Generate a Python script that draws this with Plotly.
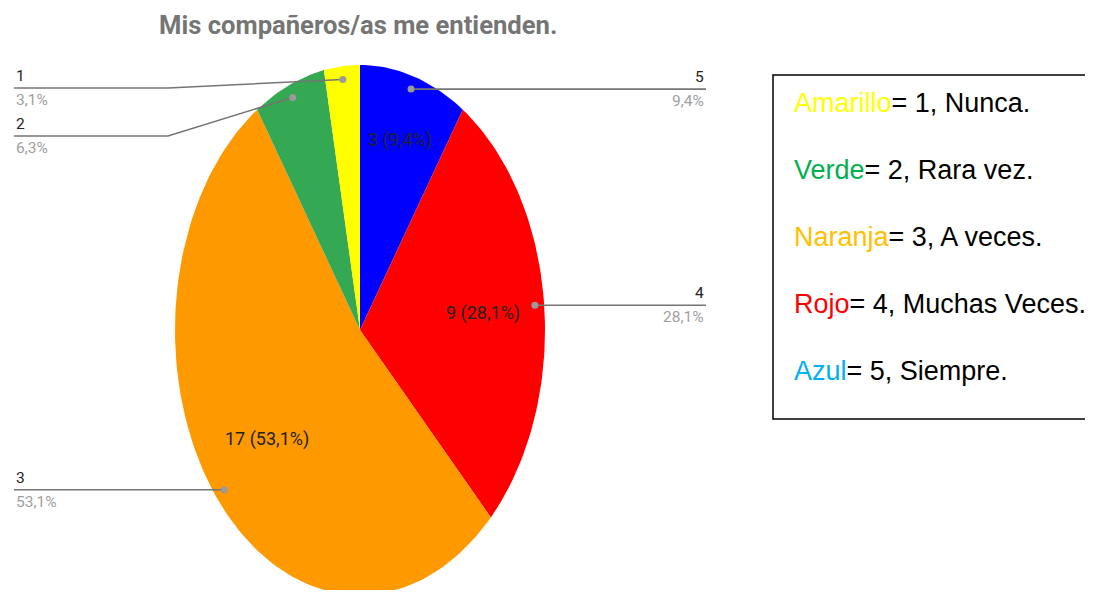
import math
import plotly.graph_objects as go

# ---------------- data ----------------
TITLE = "Mis compañeros/as me entienden."
CATEGORIES = ["5", "4", "3", "2", "1"]          # clockwise from 12 o'clock
COUNTS = [3, 9, 17, 2, 1]
SLICE_COLORS = ["#0000ff", "#ff0000", "#ff9900", "#34a853", "#ffff00"]
INSIDE_LABELLED = ["5", "4", "3"]

LEGEND_WORDS = ["Amarillo", "Verde", "Naranja", "Rojo", "Azul"]
LEGEND_WORD_COLORS = ["#ffff00", "#00b050", "#ffc000", "#ff0000", "#00b0f0"]
LEGEND_REST = ["= 1, Nunca.", "= 2, Rara vez.", "= 3, A veces.",
               "= 4, Muchas Veces.", "= 5, Siempre."]

# ---------------- style / layout ----------------
W, H = 1093, 598
OFF = 8                      # page body margin of the html file
CX, CY = 360, 330
RX, RY = 185, 265
CONDENSED = "Roboto, Liberation Sans, sans-serif"
ARIAL = "Liberation Sans, Arial, sans-serif"
INNER_R = {"5": 0.75, "4": 0.67, "3": 0.65}
DOT_R = 0.95
LEADER = {  # side, end x, elbow x, forced line y
    "5": ("right", 706, None, None),
    "4": ("right", 706, None, None),
    "3": ("left", 14, None, None),
    "2": ("left", 14, 168, 136),
    "1": ("left", 14, 168, 88),
}

total = sum(COUNTS)


def pct_text(c):
    return f"{c / total * 100 + 1e-9:.1f}".replace(".", ",") + "%"


def pt(frac, r):
    a = 2 * math.pi * frac
    return CX + RX * r * math.sin(a), CY - RY * r * math.cos(a)


fig = go.Figure()
annotations = []

cum = 0
for cat, cnt, col in zip(CATEGORIES, COUNTS, SLICE_COLORS):
    f0, f1 = cum / total, (cum + cnt) / total
    n = max(8, int(240 * (f1 - f0)))
    xs, ys = [CX], [CY]
    for i in range(n + 1):
        x, y = pt(f0 + (f1 - f0) * i / n, 1.0)
        xs.append(x)
        ys.append(y)
    xs.append(CX)
    ys.append(CY)
    fig.add_trace(go.Scatter(x=xs, y=ys, mode="lines", fill="toself",
                             fillcolor=col, line=dict(width=0),
                             hoverinfo="skip", showlegend=False))
    mid = (f0 + f1) / 2
    if cat in INSIDE_LABELLED:
        lx, ly = pt(mid, INNER_R[cat])
        annotations.append(dict(x=lx, y=ly, text=f"{cnt} ({pct_text(cnt)})",
                                showarrow=False, xanchor="center", yanchor="middle",
                                font=dict(family=CONDENSED, size=18, color="#222222")))
    cum += cnt

# leader lines
cum = 0
for cat, cnt in zip(CATEGORIES, COUNTS):
    mid = (cum + cnt / 2) / total
    cum += cnt
    dx, dy = pt(mid, DOT_R)
    side, ex, elbow, ly = LEADER[cat]
    if ly is None:
        ly = dy
    if elbow is None:
        lxs, lys = [dx, ex], [dy, ly]
    else:
        lxs, lys = [dx, elbow, ex], [dy, ly, ly]
    fig.add_trace(go.Scatter(x=lxs, y=lys, mode="lines",
                             line=dict(color="#757575", width=1.6),
                             hoverinfo="skip", showlegend=False))
    fig.add_trace(go.Scatter(x=[dx], y=[dy], mode="markers",
                             marker=dict(color="#9a9a9a", size=7),
                             hoverinfo="skip", showlegend=False))
    xa = "right" if side == "right" else "left"
    annotations.append(dict(x=ex, y=ly - 1, text=cat, showarrow=False,
                            xanchor=xa, yanchor="bottom",
                            font=dict(family=CONDENSED, size=15.5, color="#222222")))
    annotations.append(dict(x=ex, y=ly + 1, text=pct_text(cnt), showarrow=False,
                            xanchor=xa, yanchor="top",
                            font=dict(family=CONDENSED, size=15.5, color="#a0a0a0")))

# title
annotations.append(dict(x=358, y=25, text=f"<b>{TITLE}</b>", showarrow=False,
                        xanchor="center", yanchor="middle",
                        font=dict(family=CONDENSED, size=25.6, color="#757575")))

# legend text box
LEG_Y0, LEG_DY = 103, 67
for i, (w, wc, rest) in enumerate(zip(LEGEND_WORDS, LEGEND_WORD_COLORS, LEGEND_REST)):
    annotations.append(dict(
        x=792, y=LEG_Y0 + i * LEG_DY,
        text=f"<span style='color:{wc}'>{w}</span>{rest}",
        showarrow=False, xanchor="left", yanchor="middle",
        font=dict(family=ARIAL, size=27, color="#000000")))

fig.add_shape(type="rect", x0=773, x1=1100, y0=75, y1=419,
              line=dict(color="#000000", width=1.5), fillcolor="rgba(0,0,0,0)")

fig.update_layout(
    width=W - 2 * OFF, height=H - 2 * OFF,
    margin=dict(l=0, r=0, t=0, b=0, pad=0),
    paper_bgcolor="white", plot_bgcolor="white",
    xaxis=dict(range=[OFF, W - OFF], visible=False, fixedrange=True),
    yaxis=dict(range=[H - OFF, OFF], visible=False, fixedrange=True),
    annotations=annotations,
    showlegend=False,
)

fig.write_html("out.html")
